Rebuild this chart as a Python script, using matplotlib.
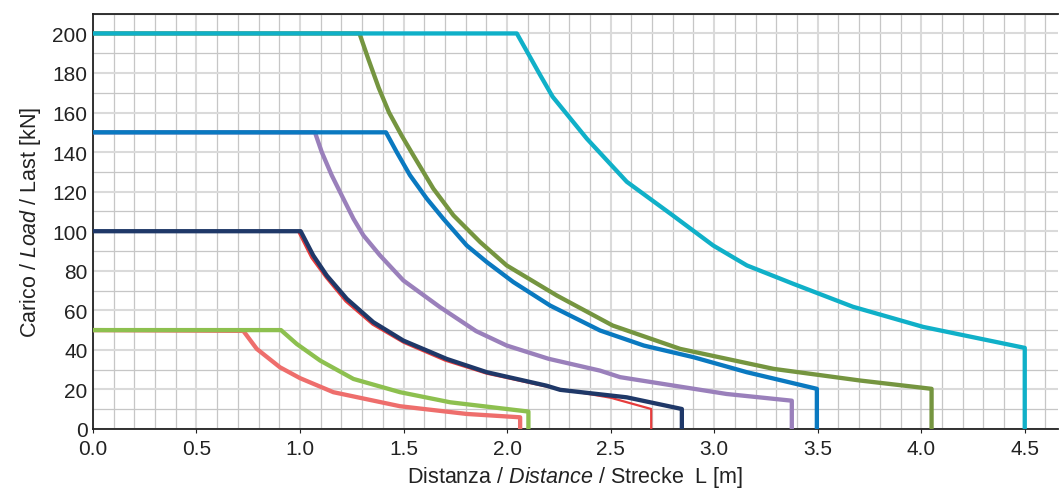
import matplotlib.pyplot as plt
from matplotlib.ticker import MultipleLocator

plt.rcParams['font.family'] = ['Liberation Sans', 'DejaVu Sans']
plt.rcParams['mathtext.fontset'] = 'custom'
plt.rcParams['mathtext.rm'] = 'Liberation Sans'
plt.rcParams['mathtext.it'] = 'Liberation Sans:italic'

# curve data: distance L [m] / load [kN]
salmone_x = [0.0, 0.726, 0.791, 0.903, 1.0, 1.161, 1.483, 1.805, 2.063, 2.063]
salmone_y = [50, 49.6, 40.5, 31.2, 25.7, 18.6, 11.5, 7.6, 5.9, 0]

verde_chiaro_x = [0.0, 0.908, 0.984, 1.097, 1.258, 1.483, 1.725, 2.103, 2.103]
verde_chiaro_y = [50, 50, 43, 34.6, 25.3, 18.6, 13.5, 8.8, 0]

rosso_x = [0.0, 0.99, 1.055, 1.125, 1.22, 1.35, 1.5, 1.7, 1.9, 2.2, 2.5, 2.696, 2.696]
rosso_y = [100, 100, 86.5, 76.5, 64.5, 52.8, 43.6, 34.6, 28.0, 21.2, 15.8, 10.1, 0]

blu_scuro_x = [0.0, 1.003, 1.064, 1.129, 1.226, 1.354, 1.499, 1.709, 1.902, 2.19, 2.256, 2.578, 2.844, 2.844]
blu_scuro_y = [100, 100, 87.7, 77.6, 65.8, 54, 44.7, 35.4, 28.7, 21.9, 19.8, 16, 10.1, 0]

viola_x = [0.0, 1.072, 1.105, 1.153, 1.209, 1.258, 1.306, 1.386, 1.499, 1.676, 1.85, 1.998, 2.2, 2.449, 2.546, 3.06, 3.375, 3.375]
viola_y = [150, 150, 140, 128.3, 116.5, 106.3, 97.9, 87.8, 75.1, 61.6, 49.5, 42.2, 35.5, 29.5, 26.2, 17.7, 14.3, 0]

blu_x = [0.0, 1.415, 1.467, 1.531, 1.612, 1.692, 1.805, 1.902, 2.03, 2.208, 2.449, 2.66, 2.90, 3.158, 3.496, 3.496]
blu_y = [150, 150, 140, 128.3, 116.5, 106.3, 92.8, 84.4, 74.3, 62.4, 49.8, 42.2, 36.3, 28.7, 20.3, 0]

verde_x = [0.0, 1.287, 1.33, 1.38, 1.43, 1.49, 1.547, 1.644, 1.741, 1.87, 1.998, 2.24, 2.51, 2.836, 3.287, 3.705, 4.05, 4.05]
verde_y = [200, 200, 187, 172.5, 160, 148.5, 138.4, 121.5, 108, 94.5, 82.7, 67.5, 52.3, 40.5, 30.4, 24.5, 20.3, 0]

ciano_x = [0.0, 2.047, 2.16, 2.22, 2.385, 2.578, 2.80, 2.995, 3.158, 3.382, 3.67, 4.01, 4.5, 4.5]
ciano_y = [200, 200, 178.9, 168, 146.8, 125, 108, 92.8, 82.7, 73.4, 61.8, 51.6, 41, 0]

serie = [
    (salmone_x, salmone_y, '#ee6e6c', 3.1),
    (verde_chiaro_x, verde_chiaro_y, '#8dc04f', 3.1),
    (rosso_x, rosso_y, '#e63c3c', 1.6),
    (blu_scuro_x, blu_scuro_y, '#1f3868', 3.1),
    (viola_x, viola_y, '#9a80bb', 3.1),
    (blu_x, blu_y, '#0a79c0', 3.1),
    (verde_x, verde_y, '#759540', 3.1),
    (ciano_x, ciano_y, '#10b0c8', 3.1),
]

fig = plt.figure(figsize=(10.6, 4.89), dpi=100)
ax = fig.add_axes([0.0877, 0.1207, 0.9103, 0.8493])

for x, y, colore, lw in serie:
    ax.plot(x, y, color=colore, linewidth=lw, solid_joinstyle='round', zorder=3)

ax.set_xlim(0, 4.66)
ax.set_ylim(0, 210)
ax.xaxis.set_major_locator(MultipleLocator(0.5))
ax.xaxis.set_minor_locator(MultipleLocator(0.1))
ax.yaxis.set_minor_locator(MultipleLocator(10))
ax.set_yticks(range(0, 201, 20))
ax.xaxis.set_major_formatter(plt.FuncFormatter(lambda v, p: f'{v:.1f}'))

ax.grid(which='major', color='#dadada', linewidth=1.5, zorder=0)
ax.grid(which='minor', color='#c6c6c6', linewidth=0.9, zorder=0)
ax.set_axisbelow(True)

ax.tick_params(axis='both', which='major', labelsize=15, colors='#222222', length=3)
ax.tick_params(axis='both', which='minor', length=0)
ax.tick_params(axis='x', pad=4.5)
ax.tick_params(axis='y', length=0, pad=4)

for lato in ['left', 'bottom', 'top']:
    ax.spines[lato].set_color('#222222')
    ax.spines[lato].set_linewidth(1.3)
ax.spines['right'].set_visible(False)

ax.set_xlabel(r'Distanza / $\mathit{Distance}$ / Strecke  L [m]', fontsize=15.5, color='#222222', labelpad=4)
ax.set_ylabel(r'Carico / $\mathit{Load}$ / Last [kN]', fontsize=15.5, color='#222222', labelpad=7)

fig.savefig('out.png', dpi=100)
